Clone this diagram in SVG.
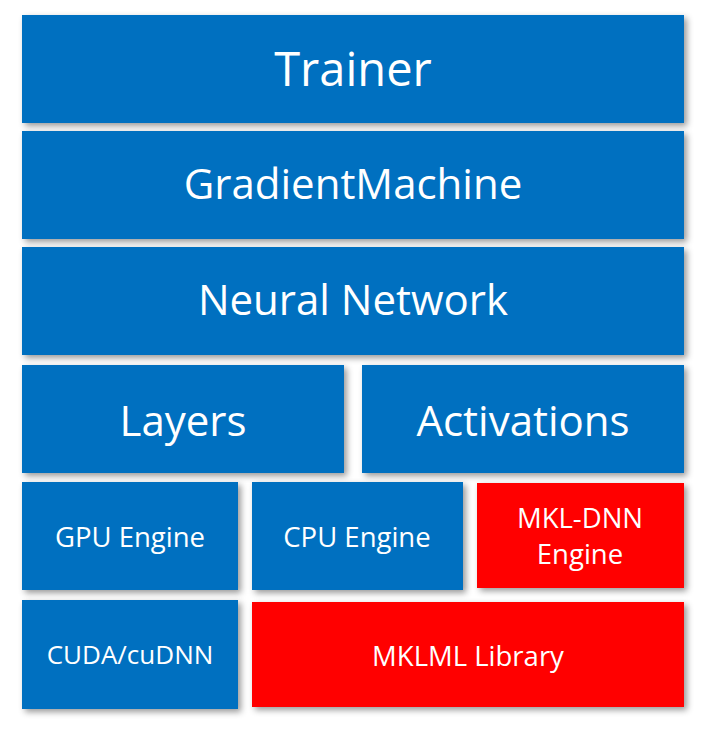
<svg xmlns="http://www.w3.org/2000/svg" width="707" height="731" viewBox="0 0 707 731">
<defs>
<filter id="sh" x="-10%" y="-10%" width="125%" height="130%">
<feDropShadow dx="3" dy="3" stdDeviation="3" flood-color="#000" flood-opacity="0.4"/>
</filter>
<style>
.b{fill:#0070C0;filter:url(#sh)}
.r{fill:#FF0000;filter:url(#sh)}
text{font-family:"Open Sans","Noto Sans","DejaVu Sans",sans-serif;fill:#fff;text-anchor:middle;dominant-baseline:central}
.t1{font-size:47px}
.t2{font-size:42px}
.t3{font-size:27.5px}
.t4{font-size:26px}
</style>
</defs>
<rect width="707" height="731" fill="#fff"/>
<g id="trainer"><rect class="b" x="22" y="15" width="662" height="108"/><text class="t1" x="353" y="68">Trainer</text></g>
<g id="gradientmachine"><rect class="b" x="22" y="131" width="662" height="108"/><text class="t2" x="353" y="182">GradientMachine</text></g>
<g id="neuralnetwork"><rect class="b" x="22" y="247" width="662" height="108"/><text class="t2" x="353" y="298">Neural Network</text></g>
<g id="layers"><rect class="b" x="22" y="365" width="322" height="108"/><text class="t2" x="183" y="419">Layers</text></g>
<g id="activations"><rect class="b" x="362" y="365" width="322" height="108"/><text class="t2" x="523" y="419">Activations</text></g>
<g id="gpuengine"><rect class="b" x="22" y="482" width="216" height="108"/><text class="t3" x="130" y="536">GPU Engine</text></g>
<g id="cpuengine"><rect class="b" x="252" y="482" width="211" height="108"/><text class="t3" x="357" y="536">CPU Engine</text></g>
<g id="mkldnn"><rect class="r" x="477" y="483" width="207" height="105"/><text class="t3" x="580" y="517">MKL-DNN</text><text class="t3" x="580" y="553">Engine</text></g>
<g id="cuda"><rect class="b" x="22" y="600" width="216" height="109"/><text class="t4" x="130" y="654">CUDA/cuDNN</text></g>
<g id="mklml"><rect class="r" x="252" y="602" width="432" height="105"/><text class="t3" x="468" y="655">MKLML Library</text></g>
<g id="connectors"/>
</svg>
